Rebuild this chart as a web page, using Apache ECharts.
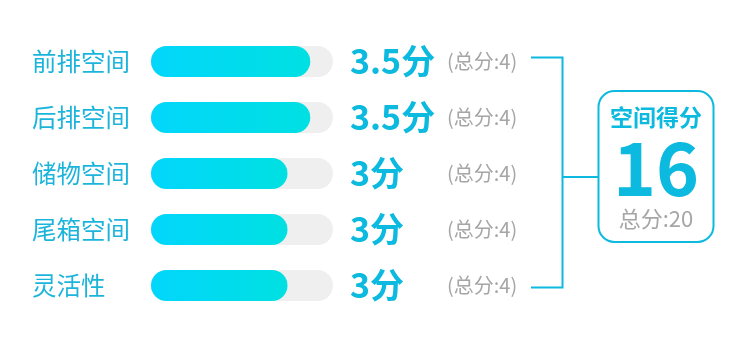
<!DOCTYPE html>
<html><head><meta charset="utf-8">
<script src="https://cdn.jsdelivr.net/npm/echarts@6/dist/echarts.min.js"></script>
<style>html,body{margin:0;padding:0;background:#fff}#c{width:750px;height:339px}</style>
</head><body><div id="c"></div>
<script>
const categories = ['前排空间','后排空间','储物空间','尾箱空间','灵活性'];
const scores = [3.5, 3.5, 3, 3, 3];
const maxScores = [4, 4, 4, 4, 4];
const totalLabel = '总分';
const scoreTitle = '空间得分';

const sum = scores.reduce((a,b)=>a+b,0);
const sumMax = maxScores.reduce((a,b)=>a+b,0);
const font = '"Noto Sans CJK SC","Noto Sans",sans-serif';
const chart = echarts.init(document.getElementById('c'));
chart.setOption({
  animation:false,
  grid:{left:151,width:182,top:33.5,height:280},
  xAxis:{type:'value',min:0,max:4,show:false},
  yAxis:[{type:'category',data:categories,inverse:true,axisLine:{show:false},axisTick:{show:false},
    axisLabel:{margin:119,align:'left',color:'#1db4dc',fontSize:24.5,fontFamily:font}},
   {type:'category',data:maxScores.map(m=>'('+totalLabel+':'+m+')'),inverse:true,position:'right',axisLine:{show:false},axisTick:{show:false},
    axisLabel:{margin:114,align:'left',color:'#a6a6a6',fontSize:20,fontFamily:font}}],
  series:[
    {type:'bar',data:maxScores,barWidth:31,itemStyle:{color:'#efefef',borderRadius:15.5},silent:true,
     label:{show:true,position:'right',distance:17,fontFamily:font,fontSize:34,fontWeight:'bold',color:'#0cb9df',
       formatter:p=>scores[p.dataIndex]+'分'}},
    {type:'bar',data:scores,barWidth:31,barGap:'-100%',itemStyle:{borderRadius:15.5,
      color:new echarts.graphic.LinearGradient(0,0,1,0,[{offset:0,color:'#02d6fb'},{offset:1,color:'#00e0e2'}])}}
  ],
  graphic:[
    {type:'polyline',shape:{points:[[531,57.5],[562.5,57.5],[562.5,287.5],[531,287.5]]},style:{stroke:'#0cb9df',lineWidth:2,fill:null}},
    {type:'line',shape:{x1:562.5,y1:177,x2:598,y2:177},style:{stroke:'#0cb9df',lineWidth:2}},
    {type:'rect',shape:{x:598.5,y:91,width:115,height:151,r:16},style:{stroke:'#0cb9df',lineWidth:2,fill:'#fff'}},
    {type:'text',x:656,y:117,style:{text:scoreTitle,fontFamily:font,fontSize:23,fontWeight:'bold',fill:'#0cb9df',align:'center',verticalAlign:'middle'}},
    {type:'text',x:656,y:168,style:{text:String(sum),fontFamily:font,fontSize:73,fontWeight:'bold',fill:'#0cb9df',align:'center',verticalAlign:'middle'}},
    {type:'text',x:656,y:219,style:{text:totalLabel+':'+sumMax,fontFamily:font,fontSize:22,fill:'#a6a6a6',align:'center',verticalAlign:'middle'}}
  ]
});
</script></body></html>
